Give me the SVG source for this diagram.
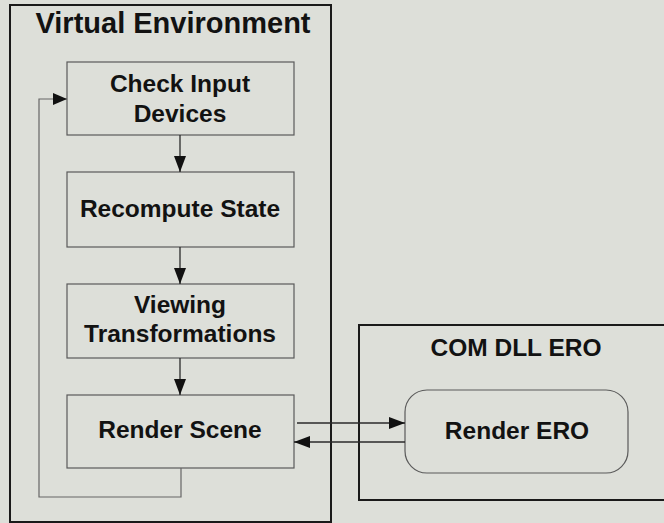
<svg xmlns="http://www.w3.org/2000/svg" width="664" height="523" viewBox="0 0 664 523">
<defs>
<style>
.t{font-family:"Liberation Sans",Arial,sans-serif;font-weight:bold;fill:#121212;text-anchor:middle}
.title{font-size:29px}
.n{font-size:24.5px}
.outer{fill:none;stroke:#1a1a1a;stroke-width:2}
.box{fill:none;stroke:#5a5a5a;stroke-width:1.2}
.c{fill:none;stroke:#2a2a2a;stroke-width:1.3}
.loop{fill:none;stroke:#666;stroke-width:1.2}
</style>
<marker id="ah" viewBox="0 0 14 12" refX="14" refY="6" markerWidth="14" markerHeight="12" markerUnits="userSpaceOnUse" orient="auto">
<path d="M0,0 L14,6 L0,12 z" fill="#111"/>
</marker>
<marker id="ahv" viewBox="0 0 16 12" refX="16" refY="6" markerWidth="16" markerHeight="12" markerUnits="userSpaceOnUse" orient="auto">
<path d="M0,0 L16,6 L0,12 z" fill="#111"/>
</marker>
</defs>
<rect width="664" height="523" fill="#dddfd9"/>
<g id="virtual-environment">
<rect class="outer" x="10" y="5" width="321" height="517"/>
<text class="t title" x="173" y="33">Virtual Environment</text>
</g>
<g id="com-dll-ero">
<rect class="outer" x="359" y="325" width="310" height="175"/>
<text class="t n" x="516" y="356">COM DLL ERO</text>
</g>
<g id="check-input">
<rect class="box" x="67" y="62" width="227" height="73"/>
<text class="t n" x="180" y="92">Check Input</text>
<text class="t n" x="180" y="122">Devices</text>
</g>
<g id="recompute-state">
<rect class="box" x="67" y="172" width="227" height="75"/>
<text class="t n" x="180" y="217">Recompute State</text>
</g>
<g id="viewing-transformations">
<rect class="box" x="67" y="284" width="227" height="74"/>
<text class="t n" x="180" y="313">Viewing</text>
<text class="t n" x="180" y="342">Transformations</text>
</g>
<g id="render-scene">
<rect class="box" x="67" y="395" width="227" height="73"/>
<text class="t n" x="180" y="438">Render Scene</text>
</g>
<g id="render-ero">
<rect class="box" x="405" y="390" width="223" height="83" rx="22" ry="22"/>
<text class="t n" x="517" y="439">Render ERO</text>
</g>
<g id="connectors">
<line class="c" x1="180" y1="135" x2="180" y2="172" marker-end="url(#ahv)"/>
<line class="c" x1="180" y1="247" x2="180" y2="284" marker-end="url(#ahv)"/>
<line class="c" x1="180" y1="358" x2="180" y2="395" marker-end="url(#ahv)"/>
<polyline class="loop" points="181,468 181,497 39,497 39,99 67,99" marker-end="url(#ah)"/>
<line class="c" x1="297" y1="423" x2="405" y2="423" marker-end="url(#ahv)"/>
<line class="c" x1="405" y1="442" x2="294" y2="442" marker-end="url(#ahv)"/>
</g>
</svg>
